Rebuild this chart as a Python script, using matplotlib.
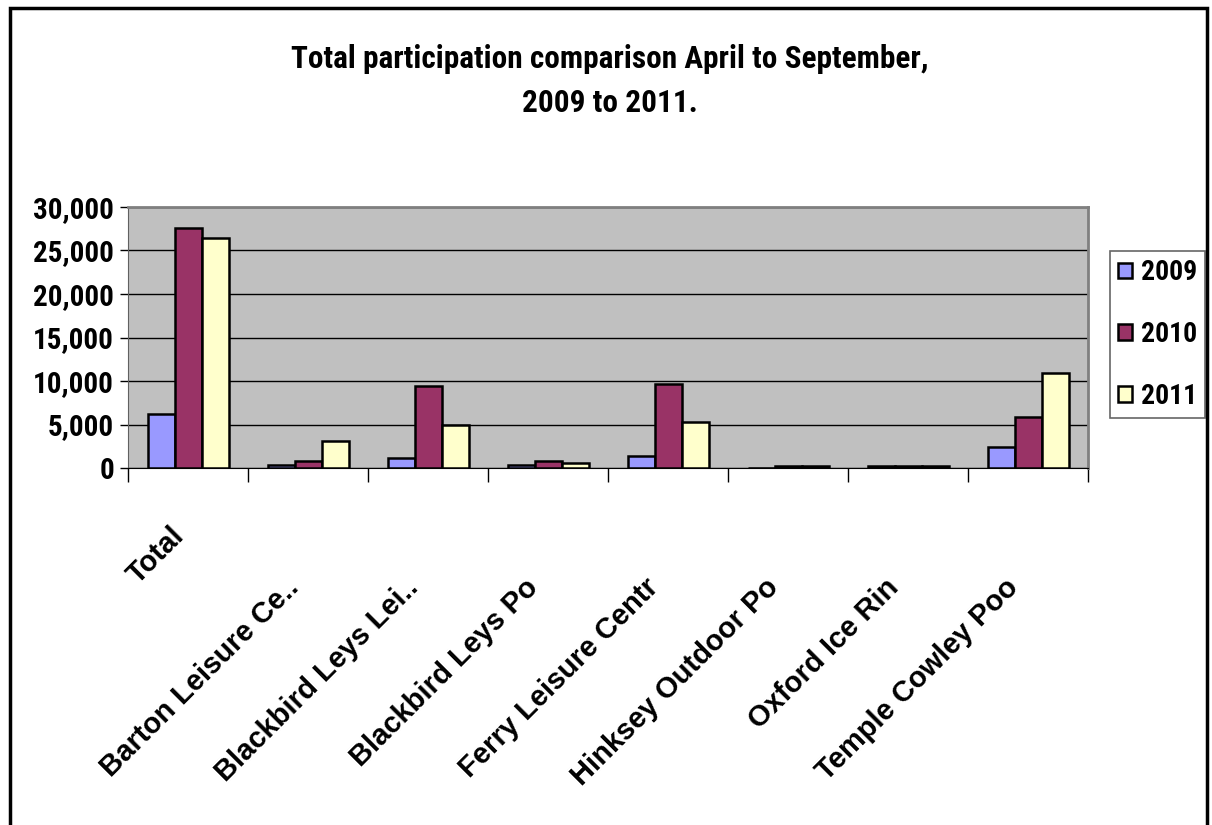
import matplotlib
matplotlib.use('Agg')
import matplotlib.pyplot as plt
import matplotlib.font_manager as fm
from matplotlib.patches import Rectangle
from matplotlib.ticker import FuncFormatter, MultipleLocator
from matplotlib.transforms import ScaledTranslation
import numpy as np

categorias = ['Total', 'Barton Leisure Ce..', 'Blackbird Leys Lei..', 'Blackbird Leys Po',
              'Ferry Leisure Centr', 'Hinksey Outdoor Po', 'Oxford Ice Rin', 'Temple Cowley Poo']
anios = ['2009', '2010', '2011']
v2009 = [6200, 300, 1200, 300, 1400, 0, 250, 2450]
v2010 = [27600, 850, 9400, 850, 9700, 250, 250, 5900]
v2011 = [26400, 3050, 4950, 600, 5250, 250, 250, 10900]
colores = ['#9999FF', '#993366', '#FFFFCC']

# buscar una fuente estrecha
nombres = {f.name for f in fm.fontManager.ttflist}
narrow = 'Liberation Sans'
for n in ['Liberation Sans Narrow', 'Roboto Condensed', 'DejaVu Sans Condensed']:
    if n in nombres:
        narrow = n
        break
plt.rcParams['font.family'] = 'Liberation Sans'

fig = plt.figure(figsize=(12.12, 8.25), dpi=100)
ax = fig.add_axes([128 / 1212, 1 - 468 / 825, 960 / 1212, 261 / 825])
ax.set_facecolor('#C0C0C0')

x = np.arange(len(categorias))
ancho = 0.225
for i, (vals, c) in enumerate(zip([v2009, v2010, v2011], colores)):
    ax.bar(x + (i - 1) * ancho, vals, width=ancho, color=c, edgecolor='black',
           linewidth=1.8, label=anios[i], zorder=3)

ax.set_xlim(-0.5, len(categorias) - 0.5)
ax.set_ylim(0, 30000)
ax.yaxis.set_major_locator(MultipleLocator(5000))
ax.yaxis.set_major_formatter(FuncFormatter(lambda v, p: f'{int(v):,}'))
ax.grid(axis='y', color='black', linewidth=1, zorder=1)

for s in ['top', 'right']:
    ax.spines[s].set_color('#808080')
    ax.spines[s].set_linewidth(2)
ax.spines['left'].set_color('#606060')
ax.spines['bottom'].set_color('black')

ax.tick_params(axis='y', length=6, width=1, pad=4)
for t in ax.get_yticklabels():
    t.set_fontfamily(narrow)
    t.set_fontweight('bold')
    t.set_fontsize(21)

# etiquetas de categoria giradas
ax.set_xticks(x)
ax.set_xticks(np.arange(len(categorias) + 1) - 0.5, minor=True)
ax.tick_params(axis='x', which='minor', length=10, width=1, color='black')
ax.tick_params(axis='x', which='major', length=0, pad=83)
ax.set_xticklabels(categorias, rotation=45, ha='right', va='center', rotation_mode='anchor',
                   fontsize=21, fontweight='bold')
for k, t in enumerate(ax.get_xticklabels()):
    dx, dy = (-6 / 72, 37 / 72) if k == 0 else (-10 / 72, 0)
    t.set_transform(t.get_transform() + ScaledTranslation(dx, dy, fig.dpi_scale_trans))

leg = ax.legend(loc='upper left', bbox_to_anchor=(1110 / 1212, 1 - 251 / 825),
                bbox_transform=fig.transFigure, frameon=True, fancybox=False,
                prop={'family': narrow, 'weight': 'bold', 'size': 20},
                handlelength=0.5, handleheight=0.5, handletextpad=0.3,
                labelspacing=1.25, borderpad=0.3, borderaxespad=0)
leg.get_frame().set_edgecolor('#404040')
leg.get_frame().set_linewidth(1.2)

fig.text(0.503, 0.902, 'Total participation comparison April to September,\n2009 to 2011.',
         ha='center', va='center', fontsize=22.5, fontweight='bold', family=narrow,
         linespacing=1.6)

fig.patches.append(Rectangle((10 / 1212, -0.05), 1197 / 1212, 1 - 8 / 825 + 0.05,
                             transform=fig.transFigure, fill=False,
                             edgecolor='black', linewidth=2.5))

fig.savefig('out.png', dpi=100)
